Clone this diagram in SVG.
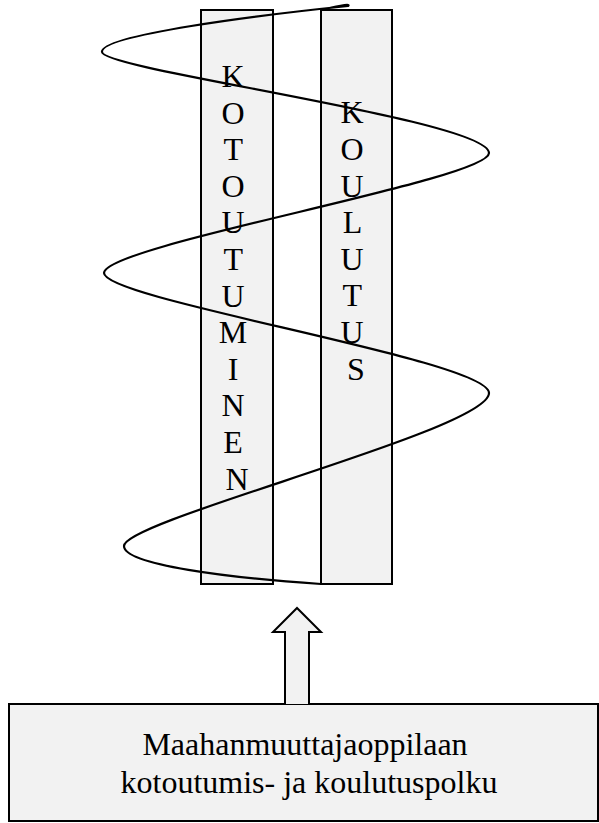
<svg xmlns="http://www.w3.org/2000/svg" width="599" height="823" viewBox="0 0 599 823">
  <style>
    .box { fill: #f2f2f2; stroke: #000; stroke-width: 2; }
    .lbl { font-family: 'Liberation Serif', serif; font-size: 32px; fill: #000; text-anchor: middle; }
    .spiral { fill: none; stroke: #000; stroke-width: 2.2; }
  </style>
  <rect width="599" height="823" fill="#fff"/>
  <g id="kotoutuminen">
    <rect class="box" x="201" y="10" width="72" height="574"/>
    <text class="lbl" font-family="Liberation Serif, serif">
      <tspan x="237" y="87">K</tspan>
      <tspan x="237" y="123.6">O</tspan>
      <tspan x="237" y="160.2">T</tspan>
      <tspan x="237" y="196.8">O</tspan>
      <tspan x="237" y="233.4">U</tspan>
      <tspan x="237" y="270">T</tspan>
      <tspan x="237" y="306.6">U</tspan>
      <tspan x="237" y="343.2">M</tspan>
      <tspan x="237" y="379.8">I</tspan>
      <tspan x="237" y="416.4">N</tspan>
      <tspan x="237" y="453">E</tspan>
      <tspan x="237" y="489.6">N</tspan>
    </text>
  </g>
  <g id="koulutus">
    <rect class="box" x="321" y="10" width="71" height="574"/>
    <text class="lbl" font-family="Liberation Serif, serif">
      <tspan x="356" y="123.3">K</tspan>
      <tspan x="356" y="159.9">O</tspan>
      <tspan x="356" y="196.5">U</tspan>
      <tspan x="356" y="233.1">L</tspan>
      <tspan x="356" y="269.7">U</tspan>
      <tspan x="356" y="306.3">T</tspan>
      <tspan x="356" y="342.9">U</tspan>
      <tspan x="356" y="379.5">S</tspan>
    </text>
  </g>
  <g id="polku">
    <rect class="box" x="9" y="704" width="589" height="117"/>
    <text class="lbl" font-family="Liberation Serif, serif">
      <tspan x="309" y="755">Maahanmuuttajaoppilaan</tspan>
      <tspan x="309" y="793">kotoutumis- ja koulutuspolku</tspan>
    </text>
  </g>
  <g id="connectors">
    <path class="spiral" d="M 321,10 C 333,7 352,3 348,6 C 260,15 100,35 102,52 C 102,70 489,120 489,153 C 489,180 104,245 104,273 C 104,300 489,360 489,393 C 489,430 124,520 124,546 C 124,565 230,578 321,584"/>
    <path class="box" d="M 285,704 L 285,632 L 273,632 L 297,608 L 321,632 L 309,632 L 309,704"/>
  </g>
</svg>
